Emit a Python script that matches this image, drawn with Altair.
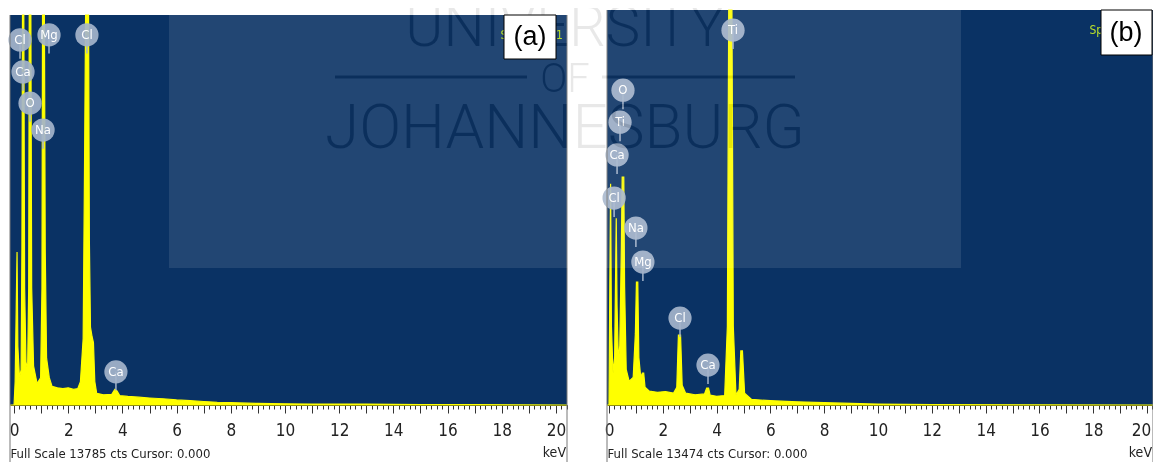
import altair as alt
import pandas as pd

# ---------------- data ----------------
# Panel (a): energy (keV) and counts (relative, 1000 = top of the display; larger values are off-scale)
a_kev = [-0.15, 0.00, 0.04, 0.08, 0.11, 0.14, 0.20, 0.26, 0.29, 0.31, 0.36, 0.39, 0.44, 0.50, 0.54,
         0.56, 0.62, 0.65, 0.72, 0.85, 0.98, 1.03, 1.05, 1.12, 1.15, 1.20, 1.30, 1.40, 1.60, 1.80,
         2.00, 2.20, 2.35, 2.45, 2.55, 2.60, 2.64, 2.75, 2.78, 2.82, 2.88, 2.93, 2.98, 3.05, 3.30,
         3.60, 3.72, 3.80, 3.90, 4.20, 4.60, 5.00, 5.50, 6.00, 6.50, 7.00, 7.50, 8.00, 9.00, 10.0,
         11.0, 13.0, 15.0, 17.0, 20.41]
a_cts = [0, 0, 60, 250, 392, 150, 70, 90, 400, 1500, 1500, 300, 110, 90, 300,
         1500, 1500, 300, 100, 55, 70, 300, 1500, 1500, 400, 120, 70, 48, 44, 42,
         44, 40, 42, 60, 170, 600, 1500, 1500, 420, 200, 175, 160, 60, 30, 26,
         27, 40, 36, 24, 22, 20, 18, 16, 13, 11, 9, 7, 6, 4, 3,
         2, 2, 1, 1, 0]
a_lab_text = ["Cl", "Ca", "O", "Na", "Mg", "Cl", "Ca"]
a_lab_kev = [0.22, 0.33, 0.59, 1.07, 1.29, 2.69, 3.76]
a_lab_cts = [936, 854, 774, 705, 949, 949, 85]

# Panel (b)
b_kev = [-0.074, 0.00, 0.03, 0.06, 0.09, 0.15, 0.21, 0.24, 0.27, 0.30, 0.35, 0.40, 0.46, 0.49, 0.55,
         0.58, 0.64, 0.75, 0.90, 0.98, 1.02, 1.07, 1.11, 1.18, 1.24, 1.29, 1.34, 1.50, 1.80, 2.10,
         2.40, 2.52, 2.58, 2.66, 2.72, 2.85, 3.20, 3.55, 3.63, 3.70, 3.76, 4.00, 4.30, 4.40, 4.45,
         4.57, 4.62, 4.72, 4.84, 4.90, 4.96, 5.04, 5.30, 6.00, 7.00, 8.00, 9.00, 10.0, 12.0, 20.22]
b_cts = [0, 0, 300, 560, 200, 80, 120, 300, 473, 250, 110, 150, 400, 577, 577,
         300, 90, 60, 70, 180, 311, 311, 120, 70, 81, 81, 45, 35, 32, 34,
         30, 45, 177, 177, 50, 30, 26, 28, 43, 43, 25, 22, 24, 200, 1500,
         1500, 200, 25, 40, 137, 137, 30, 14, 11, 8, 6, 4, 2, 1, 0]
b_lab_text = ["Ti", "O", "Ti", "Ca", "Cl", "Na", "Mg", "Cl", "Ca"]
b_lab_kev = [4.61, 0.52, 0.41, 0.30, 0.19, 1.00, 1.26, 2.64, 3.68]
b_lab_cts = [949, 797, 716, 633, 524, 448, 362, 220, 101]

full_scale_a = "Full Scale 13785 cts Cursor: 0.000"
full_scale_b = "Full Scale 13474 cts Cursor: 0.000"
tick_values = [round(i * 0.2, 1) for i in range(0, 103)]
watermark_words = ["UNIVERSITY", "OF", "JOHANNESBURG"]
panel_tags = ["(a)", "(b)"]

# ---------------- styling ----------------
W, H = 1145, 397
BG = "#0a3264"
YEL = "#ffff00"
LABC = "#a4b4ca"
NARROW = "'Liberation Sans Narrow', 'Arial Narrow', 'DejaVu Sans Condensed', 'Liberation Sans', sans-serif"
MAJOR = "abs(datum.value - round(datum.value)) < 0.01"


def panel(kev, cts, lab_text, lab_kev, lab_cts, dom_x, rng_x, rng_y, full_scale, last_shift):
    xs = alt.Scale(domain=dom_x, range=rng_x, clamp=True, nice=False, zero=False)
    ys = alt.Scale(domain=[0, 1000], range=rng_y, clamp=True, nice=False, zero=False)
    ax = alt.Axis(
        orient="bottom",
        values=[v for v in tick_values if v <= dom_x[1]],
        labelExpr="(" + MAJOR + " && round(datum.value) % 2 == 0) ? format(datum.value, 'd') : ''",
        tickSize={"condition": {"test": MAJOR, "value": 8}, "value": 4},
        labelOffset={"condition": {"test": "datum.value > 19.5 && datum.value < 20.5", "value": last_shift},
                     "value": 0},
        tickColor="#333", tickWidth=1, domainColor="#222", domainWidth=1,
        labelFont=NARROW, labelFontSize=17, labelColor="#222", labelPadding=9,
        labelFlush=False, labelOverlap=False, labelBound=False, grid=False,
        title=full_scale, titleAnchor="start", titleAlign="left", titleBaseline="alphabetic",
        titleX=rng_x[0], titleY=52, titleFont=NARROW, titleFontSize=13,
        titleFontWeight="normal", titleColor="#222",
    )

    def X(f):
        return alt.X(f, type="quantitative", scale=xs, axis=ax)

    def Y(f):
        return alt.Y(f, type="quantitative", scale=ys, axis=None)

    frame = pd.DataFrame({"x0": [dom_x[0]], "x1": [dom_x[1]], "y0": [0], "y1": [1000]})
    bg = alt.Chart(frame).mark_rect(color=BG).encode(x=X("x0"), x2="x1", y=Y("y0"), y2="y1")
    spec = alt.Chart(pd.DataFrame({"kev": kev, "cts": cts})).mark_area(
        fill=YEL, stroke=YEL, strokeWidth=1.2
    ).encode(x=X("kev"), y=Y("cts"))
    labs = pd.DataFrame({"t": lab_text, "kev": lab_kev, "y": lab_cts})
    labs["y2"] = labs["y"] - 48
    stems = alt.Chart(labs).mark_rule(color=LABC, strokeWidth=1.5).encode(x=X("kev"), y=Y("y"), y2="y2")
    dots = alt.Chart(labs).mark_point(shape="circle", filled=True, size=540, color=LABC, opacity=0.93).encode(
        x=X("kev"), y=Y("y"))
    txt = alt.Chart(labs).mark_text(color="white", fontSize=13, font=NARROW).encode(
        x=X("kev"), y=Y("y"), text="t")
    kev_txt = alt.Chart(pd.DataFrame({"x": [dom_x[1]], "t": ["keV"]})).mark_text(
        align="right", baseline="alphabetic", fontSize=14, font=NARROW, color="#222", dx=-1
    ).encode(x=X("x"), y=alt.value(H + 52), text="t")
    edges = alt.Chart(pd.DataFrame({"x": [dom_x[0], dom_x[1]]})).mark_rule(color="#777", strokeWidth=1).encode(
        x=X("x"), y=alt.value(rng_y[1]), y2=alt.value(H + 65))
    return alt.layer(bg, spec, stems, dots, txt, kev_txt, edges)


pa = panel(a_kev, a_cts, a_lab_text, a_lab_kev, a_lab_cts, [-0.15, 20.41], [2, 559], [H, 7], full_scale_a, 0)
pb = panel(b_kev, b_cts, b_lab_text, b_lab_kev, b_lab_cts, [-0.074, 20.22], [599, 1145], [H, 2], full_scale_b, -6)

one = pd.DataFrame({"k": [0]})
wm_rect = alt.Chart(one).mark_rect(color="white", opacity=0.1).encode(
    x=alt.value(161), x2=alt.value(953), y=alt.value(0), y2=alt.value(260))
WMC = "#171717"
wm1 = alt.Chart(one).mark_text(text=watermark_words[0], font="Roboto", fontWeight=300, fontSize=58,
                               color=WMC, blend="difference", baseline="alphabetic").encode(
    x=alt.value(557), y=alt.value(38))
wm2 = alt.Chart(one).mark_text(text=watermark_words[1], font="Roboto", fontWeight=300, fontSize=40,
                               color=WMC, blend="difference", baseline="alphabetic").encode(
    x=alt.value(557), y=alt.value(84))
wm3 = alt.Chart(one).mark_text(text=watermark_words[2], font="Roboto", fontWeight=300, fontSize=62,
                               color=WMC, blend="difference", baseline="alphabetic").encode(
    x=alt.value(557), y=alt.value(140))
wl1 = alt.Chart(one).mark_rule(color=WMC, strokeWidth=3, blend="difference").encode(
    x=alt.value(327), x2=alt.value(519), y=alt.value(69))
wl2 = alt.Chart(one).mark_rule(color=WMC, strokeWidth=3, blend="difference").encode(
    x=alt.value(594), x2=alt.value(787), y=alt.value(69))

spec_a = alt.Chart(one).mark_text(text="Spectrum 1", color="#b9e02a", fontSize=12, font=NARROW,
                                  align="right").encode(x=alt.value(555), y=alt.value(27))
spec_b = alt.Chart(one).mark_text(text="Spectrum 1", color="#b9e02a", fontSize=12, font=NARROW,
                                  align="right").encode(x=alt.value(1144), y=alt.value(22))
box_a = alt.Chart(one).mark_rect(fill="white", stroke="black", strokeWidth=1).encode(
    x=alt.value(496), x2=alt.value(548), y=alt.value(7), y2=alt.value(51))
box_b = alt.Chart(one).mark_rect(fill="white", stroke="black", strokeWidth=1).encode(
    x=alt.value(1093), x2=alt.value(1144), y=alt.value(2), y2=alt.value(47))
tag_a = alt.Chart(one).mark_text(text=panel_tags[0], font="Liberation Sans", fontSize=27, color="black").encode(
    x=alt.value(522), y=alt.value(29))
tag_b = alt.Chart(one).mark_text(text=panel_tags[1], font="Liberation Sans", fontSize=27, color="black").encode(
    x=alt.value(1118), y=alt.value(25))

overlay = alt.layer(wm_rect, wm1, wm2, wm3, wl1, wl2, spec_a, spec_b, box_a, box_b, tag_a, tag_b)

chart = alt.layer(pa, pb, overlay).resolve_scale(
    x="independent", y="independent"
).resolve_axis(
    x="independent", y="independent"
).properties(
    width=W, height=H,
    padding={"left": 0, "top": 0, "right": 0, "bottom": 57},
    autosize=alt.AutoSizeParams(type="none"),
    background="white",
).configure_view(stroke=None)

chart.save("out.html", embed_options={"renderer": "svg", "actions": False})
